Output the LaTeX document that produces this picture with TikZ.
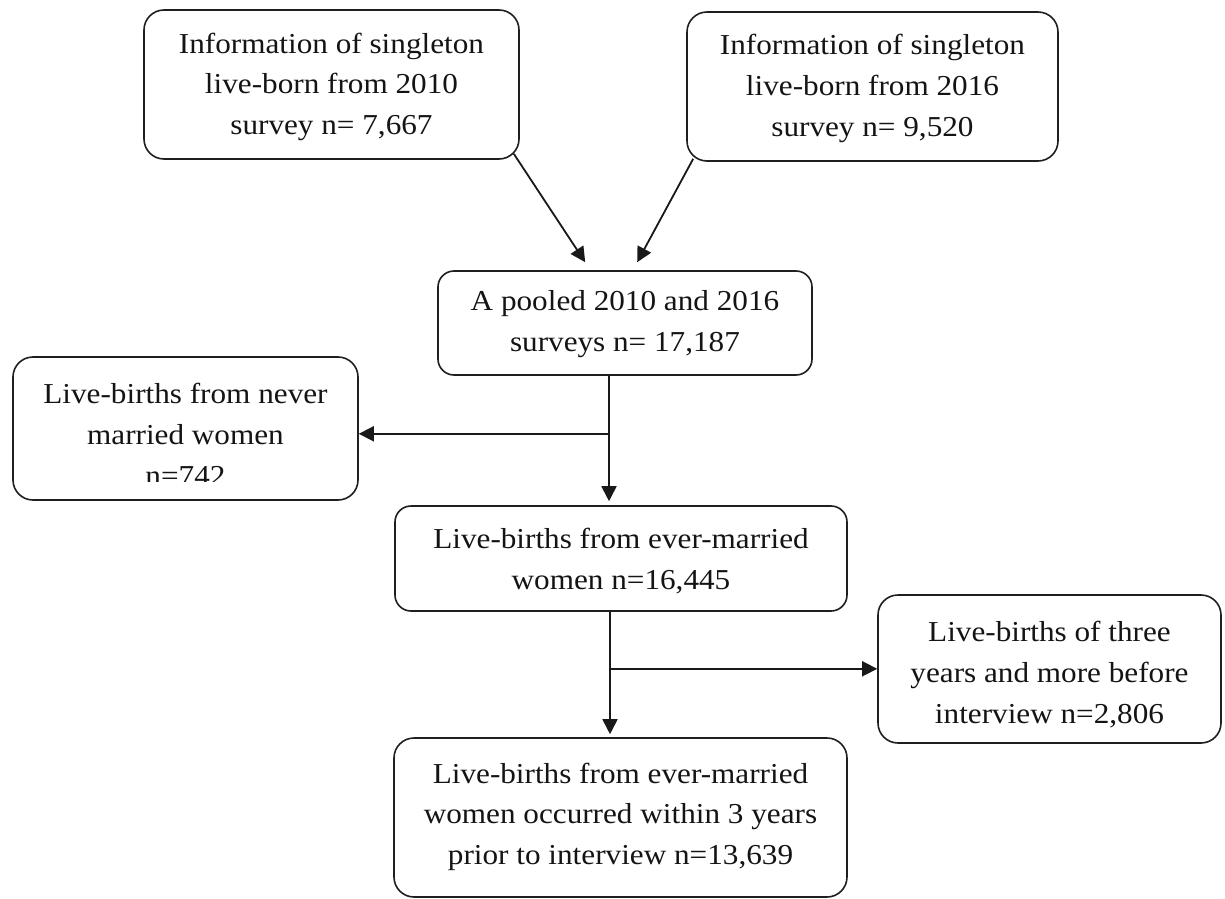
\documentclass[tikz,border=0pt]{standalone}
\usepackage{fontspec}
\setmainfont{Liberation Serif}[FakeStretch=1.08]
\usetikzlibrary{arrows.meta,calc}
\newcommand\boxlines[2]{\raisebox{-#1}[\height][\depth]{\begin{tabular}{@{}c@{}}#2\end{tabular}}}
\tikzset{
  box/.style={draw=black!88, line width=1.6bp, rounded corners=20bp, align=center,
    inner sep=0pt, font=\fontsize{29}{41}\selectfont, text=black!92},
  arr/.style={draw=black!90, line width=1.8bp, -{Triangle[length=15bp,width=15bp]}},
}
\begin{document}
\begin{tikzpicture}[x=1bp,y=-1bp]
\useasboundingbox (0,0) rectangle (1225,899);
\fill[white] (0,0) rectangle (1225,899);

\node[box, minimum width=375bp, minimum height=149bp] (b1) at (331.5,84.5)
  {\boxlines{1.3bp}{Information of singleton\\ live-born from 2010\\ survey n= 7,667}};
\node[box, minimum width=371bp, minimum height=149bp] (b2) at (872.5,86.5)
  {\boxlines{1bp}{Information of singleton\\ live-born from 2016\\ survey n= 9,520}};
\node[box, rounded corners=16bp, minimum width=374bp, minimum height=104bp] (b3) at (625,323)
  {\boxlines{0bp}{A pooled 2010 and 2016\\ surveys n= 17,187}};
\begin{scope}
  \clip (-10,-10) -- (1235,-10) -- (1235,909) -- (-10,909) -- cycle
        (25,481) -- (25,497) -- (345,497) -- (345,481) -- cycle;
  \node[box, minimum width=345bp, minimum height=143bp] (b4) at (185.5,428.5)
    {\boxlines{7.5bp}{Live-births from never\\ married women\\ n=742}};
\end{scope}
\node[box, rounded corners=16bp, minimum width=452bp, minimum height=105bp] (b5) at (621,558.5)
  {\boxlines{2bp}{Live-births from ever-married\\ women n=16,445}};
\node[box, minimum width=343bp, minimum height=148bp] (b6) at (1049.5,669)
  {\boxlines{5bp}{Live-births of three\\ years and more before\\ interview n=2,806}};
\node[box, minimum width=453bp, minimum height=159bp] (b7) at (620.5,817.5)
  {\boxlines{-1.7bp}{Live-births from ever-married\\ women occurred within 3 years\\ prior to interview n=13,639}};

\draw[arr] ($(b1.south east)+(-6,-6)$) -- ($(b3.north west)+(148,-8)$);
\draw[arr] ($(b2.south west)+(7,-3)$) -- ($(b3.north west)+(200,-8)$);

\coordinate (j1) at ($(b3.south)+(-16,58)$);
\draw[arr] (b3.south -| j1) -- ($(b5.north -| j1)+(0,-4)$);
\draw[arr] (j1) -- (j1 -| b4.east);

\coordinate (j2) at ($(b5.south)+(-11,57)$);
\draw[arr] (b5.south -| j2) -- ($(b7.north -| j2)+(0,-3)$);
\draw[arr] (j2) -- (j2 -| b6.west);
\end{tikzpicture}
\end{document}
